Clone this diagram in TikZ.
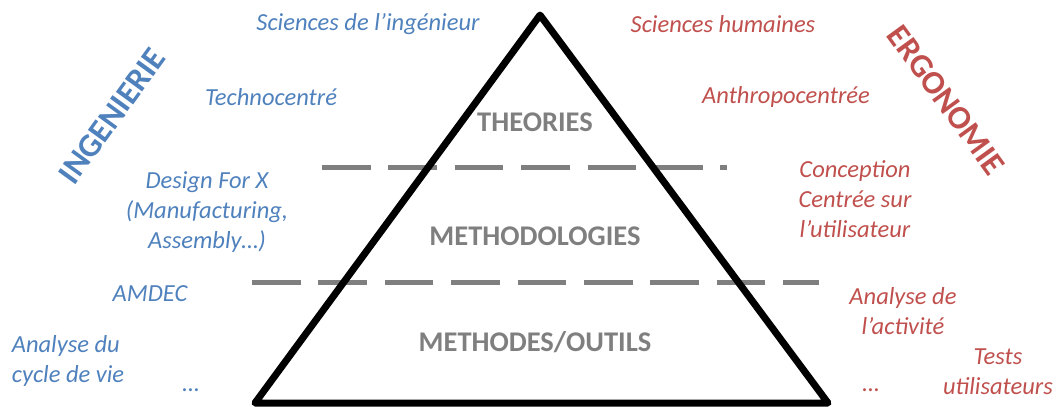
\documentclass[tikz,border=0pt]{standalone}
\usepackage{fontspec}
\setmainfont{Carlito}
\definecolor{ingblue}{HTML}{4F81BD}
\definecolor{ergred}{HTML}{C0504D}
\definecolor{tiergray}{HTML}{7F7F7F}

\begin{document}
\begin{tikzpicture}[x=1pt, y=-1pt,
    % Define Styles
    tiername/.style={
        font=\fontsize{28.5}{34}\selectfont\bfseries,
        text=tiergray
    },
    ingtext/.style={
        font=\fontsize{24.5}{30}\selectfont\itshape,
        text=ingblue,
        align=center
    },
    ergtext/.style={
        font=\fontsize{24.5}{30}\selectfont\itshape,
        text=ergred,
        align=center
    },
    fieldname/.style={
        font=\fontsize{33}{40}\selectfont\bfseries
    },
    pyramid/.style={
        draw,
        black,
        line width=7pt,
        line join=round
    },
    tierline/.style={
        draw,
        tiergray,
        line width=5pt,
        dash pattern=on 48.6pt off 17.8pt
    }
    ]

    \useasboundingbox (0,0) rectangle (1058,407);

    % Define Coordinates
    \coordinate (apex) at (540,15);     % Top of the pyramid
    \coordinate (baseL) at (255,403);   % Bottom left
    \coordinate (baseR) at (828,403);   % Bottom right
    \coordinate (cut1s) at (322,167);   % Upper dashed line
    \coordinate (cut1e) at (727,167);
    \coordinate (cut2s) at (252,282);   % Lower dashed line
    \coordinate (cut2e) at (819,282);

    % Dashed separations
    \draw[tierline] (cut1s) -- (cut1e);
    \draw[tierline] (cut2s) -- (cut2e);

    % Pyramid
    \draw[pyramid] (apex) -- (baseR) -- (baseL) -- cycle;

    % Levels
    \node[tiername] (theories) at (535,122) {THEORIES};
    \node[tiername] (methodo) at (535,236) {METHODOLOGIES};
    \node[tiername] (outils) at (535,342) {METHODES/OUTILS};

    % Engineering side
    \node[fieldname, text=ingblue, rotate=54] (inge) at (112,116) {INGENIERIE};
    \node[ingtext] (sciing) at (368,24) {Sciences de l’ingénieur};
    \node[ingtext] (techno) at (271,97) {Technocentré};
    \node[ingtext] (dfx) at (207,212) {Design For X\\(Manufacturing,\\Assembly…)};
    \node[ingtext] (amdec) at (150,294) {AMDEC};
    \node[ingtext, align=left] (acv) at (68,361) {Analyse du\\cycle de vie};
    \node[ingtext] (ingdots) at (191,390) {…};

    % Ergonomics side
    \node[fieldname, text=ergred, rotate=-54] (ergo) at (946,100) {ERGONOMIE};
    \node[ergtext] (scihum) at (723,24) {Sciences humaines};
    \node[ergtext] (anthropo) at (786,97) {Anthropocentrée};
    \node[ergtext] (ccu) at (855,199) {Conception\\Centrée sur\\l’utilisateur};
    \node[ergtext] (activ) at (903,311) {Analyse de\\l’activité};
    \node[ergtext] (tests) at (998,372) {Tests\\utilisateurs};
    \node[ergtext] (ergdots) at (871,390) {…};

\end{tikzpicture}
\end{document}
